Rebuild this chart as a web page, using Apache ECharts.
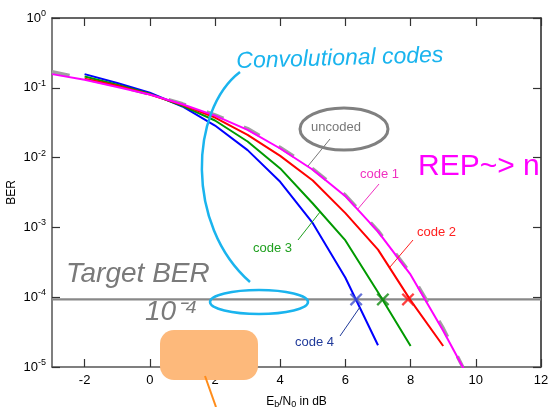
<!DOCTYPE html>
<html>
<head>
<meta charset="utf-8">
<script src="https://cdn.jsdelivr.net/npm/echarts@6/dist/echarts.min.js"></script>
<style>
html,body{margin:0;padding:0;background:#fff;}
#c{width:551px;height:407px;}
</style>
</head>
<body>
<div id="c"></div>
<script>
// ---- data ----
const uncodedSnr = [-3, -2, -1, 0, 1, 2, 3, 4, 5, 6, 7, 8, 9, 9.6];
const uncodedBer = [0.17, 0.136, 0.107, 0.081, 0.059, 0.041, 0.026, 0.014, 0.0069, 0.0029, 0.0009, 0.00022, 3.6e-5, 1.0e-5];
const code1Snr = [-3, -2, -1, 0, 1, 2, 3, 4, 5, 6, 7, 8, 9, 10];
const code1Ber = [0.157, 0.13, 0.103, 0.08, 0.058, 0.04, 0.025, 0.0135, 0.0067, 0.0028, 0.00087, 0.00021, 3.3e-5, 4.5e-6];
const code2Snr = [-2, -1, 0, 1, 2, 3, 4, 5, 6, 7, 8, 9];
const code2Ber = [0.135, 0.107, 0.08, 0.057, 0.0375, 0.0212, 0.0106, 0.0047, 0.0016, 0.00048, 9.0e-5, 2.0e-5];
const code3Snr = [-2, -1, 0, 1, 2, 3, 4, 5, 6, 7, 8];
const code3Ber = [0.145, 0.111, 0.082, 0.055, 0.034, 0.017, 0.007, 0.0022, 0.00065, 0.000118, 2.0e-5];
const code4Snr = [-2, -1, 0, 1, 2, 3, 4, 5, 6, 7];
const code4Ber = [0.157, 0.117, 0.085, 0.054, 0.0288, 0.0128, 0.0045, 0.00115, 0.00019, 2.05e-5];
const targetBer = 9.3e-5;
const targetSnr = [-3, 12];
const crossSnr = [6.33, 7.15, 7.92];
const xTicks = [-2, 0, 2, 4, 6, 8, 10, 12];

const pairs = (xs, ys) => xs.map((x, i) => [x, ys[i]]);
const FONT = '"Liberation Sans", Arial, sans-serif';
const HAND = '"Liberation Sans", sans-serif';

const chart = echarts.init(document.getElementById('c'), null, {renderer: 'canvas'});

const axisLineStyle = {color: '#555', width: 1.5};
const option = {
  animation: false,
  backgroundColor: '#fff',
  grid: {left: 52, right: 10, top: 18, bottom: 40, containLabel: false, outerBoundsMode: 'none'},
  xAxis: [{
    type: 'value', min: -3, max: 12, interval: 1,
    axisLine: {onZero: false, lineStyle: axisLineStyle},
    axisTick: {inside: true, length: 8, lineStyle: {color: '#333', width: 1.2},
      customValues: xTicks},
    axisLabel: {customValues: xTicks, color: '#000', fontSize: 13, fontFamily: FONT, margin: 7},
    splitLine: {show: false},
    name: '{t|E}{u|b}{t|/N}{u|0}{t| in dB}',
    nameLocation: 'middle', nameGap: 27, nameMoveOverlap: false,
    nameTextStyle: {rich: {
      t: {fontSize: 12, fontFamily: FONT, color: '#000'},
      u: {fontSize: 9, fontFamily: FONT, color: '#000', padding: [6, 0, 0, 0]}
    }}
  }, {
    type: 'value', min: -3, max: 12, interval: 1, position: 'top',
    axisLine: {onZero: false, lineStyle: {color: '#333', width: 1.5}},
    axisTick: {inside: true, length: 8, lineStyle: {color: '#333', width: 1.2}, customValues: xTicks},
    axisLabel: {show: false},
    splitLine: {show: false}
  }],
  yAxis: [{
    type: 'log', logBase: 10, min: 1e-5, max: 1,
    axisLine: {show: true, onZero: false, lineStyle: axisLineStyle},
    axisTick: {inside: true, length: 8, lineStyle: {color: '#333', width: 1.2}},
    minorTick: {show: false},
    splitLine: {show: false},
    axisLabel: {
      margin: 6,
      formatter: v => '{b|10}{s|' + Math.round(Math.log10(v)) + '}',
      rich: {
        b: {fontSize: 13, fontFamily: FONT, color: '#000'},
        s: {fontSize: 9, fontFamily: FONT, color: '#000', padding: [0, 0, 9, 0]}
      }
    },
    name: 'BER', nameLocation: 'middle', nameGap: 34, nameMoveOverlap: false,
    nameTextStyle: {fontSize: 12, fontFamily: FONT, color: '#000'}
  }, {
    type: 'log', logBase: 10, min: 1e-5, max: 1, position: 'right',
    axisLine: {show: true, onZero: false, lineStyle: {color: '#222', width: 1.5}},
    axisTick: {inside: true, length: 8, lineStyle: {color: '#333', width: 1.2}},
    axisLabel: {show: false},
    splitLine: {show: false}
  }],
  series: [
    {name: 'target', type: 'line', data: pairs(targetSnr, [targetBer, targetBer]),
      symbol: 'none', lineStyle: {color: '#888', width: 2.2}, z: 1},
    {name: 'uncoded', type: 'line', data: pairs(uncodedSnr, uncodedBer), symbol: 'none',
      lineStyle: {color: '#a0a0a0', width: 3.5, type: [18, 22]}, z: 2},
    {name: 'code 4', type: 'line', data: pairs(code4Snr, code4Ber), symbol: 'none',
      lineStyle: {color: '#0000ff', width: 2}, z: 3},
    {name: 'code 3', type: 'line', data: pairs(code3Snr, code3Ber), symbol: 'none',
      lineStyle: {color: '#009a00', width: 2}, z: 4},
    {name: 'code 2', type: 'line', data: pairs(code2Snr, code2Ber), symbol: 'none',
      lineStyle: {color: '#ff0000', width: 2}, z: 5},
    {name: 'code 1', type: 'line', data: pairs(code1Snr, code1Ber), symbol: 'none',
      lineStyle: {color: '#ff00ff', width: 2}, z: 6},
    {name: 'cross', type: 'scatter', z: 8,
      symbol: 'path://M2,0 L8,6 L14,0 L16,2 L10,8 L16,14 L14,16 L8,10 L2,16 L0,14 L6,8 L0,2 Z',
      symbolSize: 13,
      data: [
        {value: [crossSnr[0], targetBer], itemStyle: {color: '#4050d0'}},
        {value: [crossSnr[1], targetBer], itemStyle: {color: '#108a10'}},
        {value: [crossSnr[2], targetBer], itemStyle: {color: '#ff1010'}}
      ]}
  ],
  graphic: [
    // curve labels and leaders
    {type: 'text', left: 311, top: 121, z: 100, style: {text: 'uncoded', fill: '#777', font: '13px ' + FONT}},
    {type: 'line', z: 100, shape: {x1: 330, y1: 139, x2: 308, y2: 166}, style: {stroke: '#777', lineWidth: 1}},
    {type: 'ellipse', z: 100, shape: {cx: 344, cy: 129, rx: 44, ry: 21}, style: {fill: 'none', stroke: '#808080', lineWidth: 3}},
    {type: 'text', left: 360, top: 168, z: 100, style: {text: 'code 1', fill: '#f030c0', font: '13px ' + FONT}},
    {type: 'line', z: 100, shape: {x1: 379, y1: 184, x2: 357, y2: 210}, style: {stroke: '#f030c0', lineWidth: 1}},
    {type: 'text', left: 417, top: 226, z: 100, style: {text: 'code 2', fill: '#ff2020', font: '13px ' + FONT}},
    {type: 'line', z: 100, shape: {x1: 413, y1: 240, x2: 390, y2: 267}, style: {stroke: '#ff2020', lineWidth: 1}},
    {type: 'text', left: 253, top: 242, z: 100, style: {text: 'code 3', fill: '#20a020', font: '13px ' + FONT}},
    {type: 'line', z: 100, shape: {x1: 298, y1: 240, x2: 320, y2: 212}, style: {stroke: '#20a020', lineWidth: 1}},
    {type: 'text', left: 295, top: 336, z: 100, style: {text: 'code 4', fill: '#203a9a', font: '13px ' + FONT}},
    {type: 'line', z: 100, shape: {x1: 340, y1: 336, x2: 360, y2: 307}, style: {stroke: '#203a9a', lineWidth: 1}},
    // hand-written annotations
    {type: 'text', left: 236, top: 44, z: 100, rotation: 0.03,
      style: {text: 'Convolutional codes', fill: '#1ab4ee', font: 'italic 23px ' + HAND}},
    {type: 'bezierCurve', z: 100, shape: {x1: 240, y1: 72, cpx1: 190, cpy1: 110, cpx2: 185, cpy2: 225, x2: 250, y2: 282},
      style: {stroke: '#1ab4ee', lineWidth: 2.5, fill: 'none'}},
    {type: 'ellipse', z: 100, shape: {cx: 259, cy: 302, rx: 49, ry: 12}, style: {fill: 'none', stroke: '#1ab4ee', lineWidth: 2.5}},
    {type: 'text', left: 418, top: 152, z: 100,
      style: {text: 'REP~> n', fill: '#ff00ff', font: '30px ' + HAND}},
    {type: 'text', left: 66, top: 260, z: 100,
      style: {text: 'Target BER', fill: '#7a7a7a', font: 'italic 28px ' + HAND}},
    {type: 'text', left: 145, top: 298, z: 100,
      style: {text: '10\u207B\u2074', fill: '#7a7a7a', font: 'italic 28px ' + HAND}},
    {type: 'rect', z: 100, shape: {x: 160, y: 330, width: 98, height: 50, r: 14}, style: {fill: '#fdb97b'}},
    {type: 'line', z: 100, shape: {x1: 205, y1: 376, x2: 216, y2: 407}, style: {stroke: '#ff8c1a', lineWidth: 2}}
  ]
};
chart.setOption(option);
</script>
</body>
</html>
